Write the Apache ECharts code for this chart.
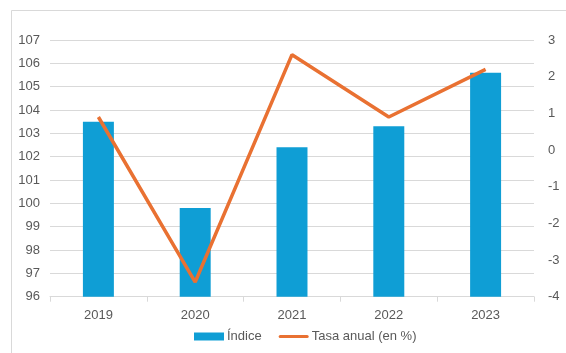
<!DOCTYPE html>
<html>
<head>
<meta charset="utf-8">
<script src="https://cdn.jsdelivr.net/npm/echarts@6/dist/echarts.min.js"></script>
<style>html,body{margin:0;padding:0;background:#fff}#c{width:566px;height:353px}</style>
</head>
<body>
<div id="c"></div>
<script>
const categories = ['2019', '2020', '2021', '2022', '2023'];
const indice = [103.5, 99.8, 102.4, 103.3, 105.6];
const tasaAnual = [0.9, -3.6, 2.6, 0.9, 2.2];
const seriesNames = ['Índice', 'Tasa anual (en %)'];

const txt = '#595959';
const font = 'Liberation Sans, Arial, sans-serif';
const chart = echarts.init(document.getElementById('c'), null, {renderer: 'canvas'});
chart.setOption({
  animation: false,
  backgroundColor: '#fff',
  textStyle: {fontFamily: font},
  graphic: [{
    type: 'polyline',
    shape: {points: [[11.5, 353], [11.5, 10.5], [566, 10.5]]},
    style: {stroke: '#d9d9d9', lineWidth: 1, fill: null}
  }],
  grid: {left: 50, right: 32, top: 40, bottom: 56.3, containLabel: false},
  legend: {
    bottom: 5, left: 189,
    itemWidth: 30, itemHeight: 8, itemGap: 17, symbolKeepAspect: true,
    textStyle: {color: txt, fontSize: 13, fontFamily: font, padding: [0, 0, 0, -2]},
    data: [
      {name: seriesNames[0], icon: 'rect'},
      {name: seriesNames[1], icon: 'path://M1.5,0 L28.5,0 A1.5,1.5 0 0 1 28.5,3 L1.5,3 A1.5,1.5 0 0 1 1.5,0 Z'}
    ]
  },
  xAxis: {
    type: 'category', data: categories,
    axisLine: {onZero: false, lineStyle: {color: '#d9d9d9'}},
    axisTick: {show: true, lineStyle: {color: '#d9d9d9'}, length: 5},
    axisLabel: {color: txt, fontSize: 13, margin: 12, fontFamily: font}
  },
  yAxis: [{
    type: 'value', min: 96, max: 107, interval: 1,
    axisLine: {show: false}, axisTick: {show: false},
    splitLine: {lineStyle: {color: '#d9d9d9'}},
    axisLabel: {color: txt, fontSize: 13, margin: 10, fontFamily: font}
  }, {
    type: 'value', min: -4, max: 3, interval: 1,
    axisLine: {show: false}, axisTick: {show: false},
    splitLine: {show: false},
    axisLabel: {color: txt, fontSize: 13, margin: 14, fontFamily: font}
  }],
  series: [{
    name: seriesNames[0], type: 'bar', data: indice, yAxisIndex: 0,
    barWidth: '32%', itemStyle: {color: '#0F9ED5'}
  }, {
    name: seriesNames[1], type: 'line', data: tasaAnual, yAxisIndex: 1,
    symbol: 'none', lineStyle: {color: '#E97132', width: 3.5}, itemStyle: {color: '#E97132'}
  }]
});
</script>
</body>
</html>
